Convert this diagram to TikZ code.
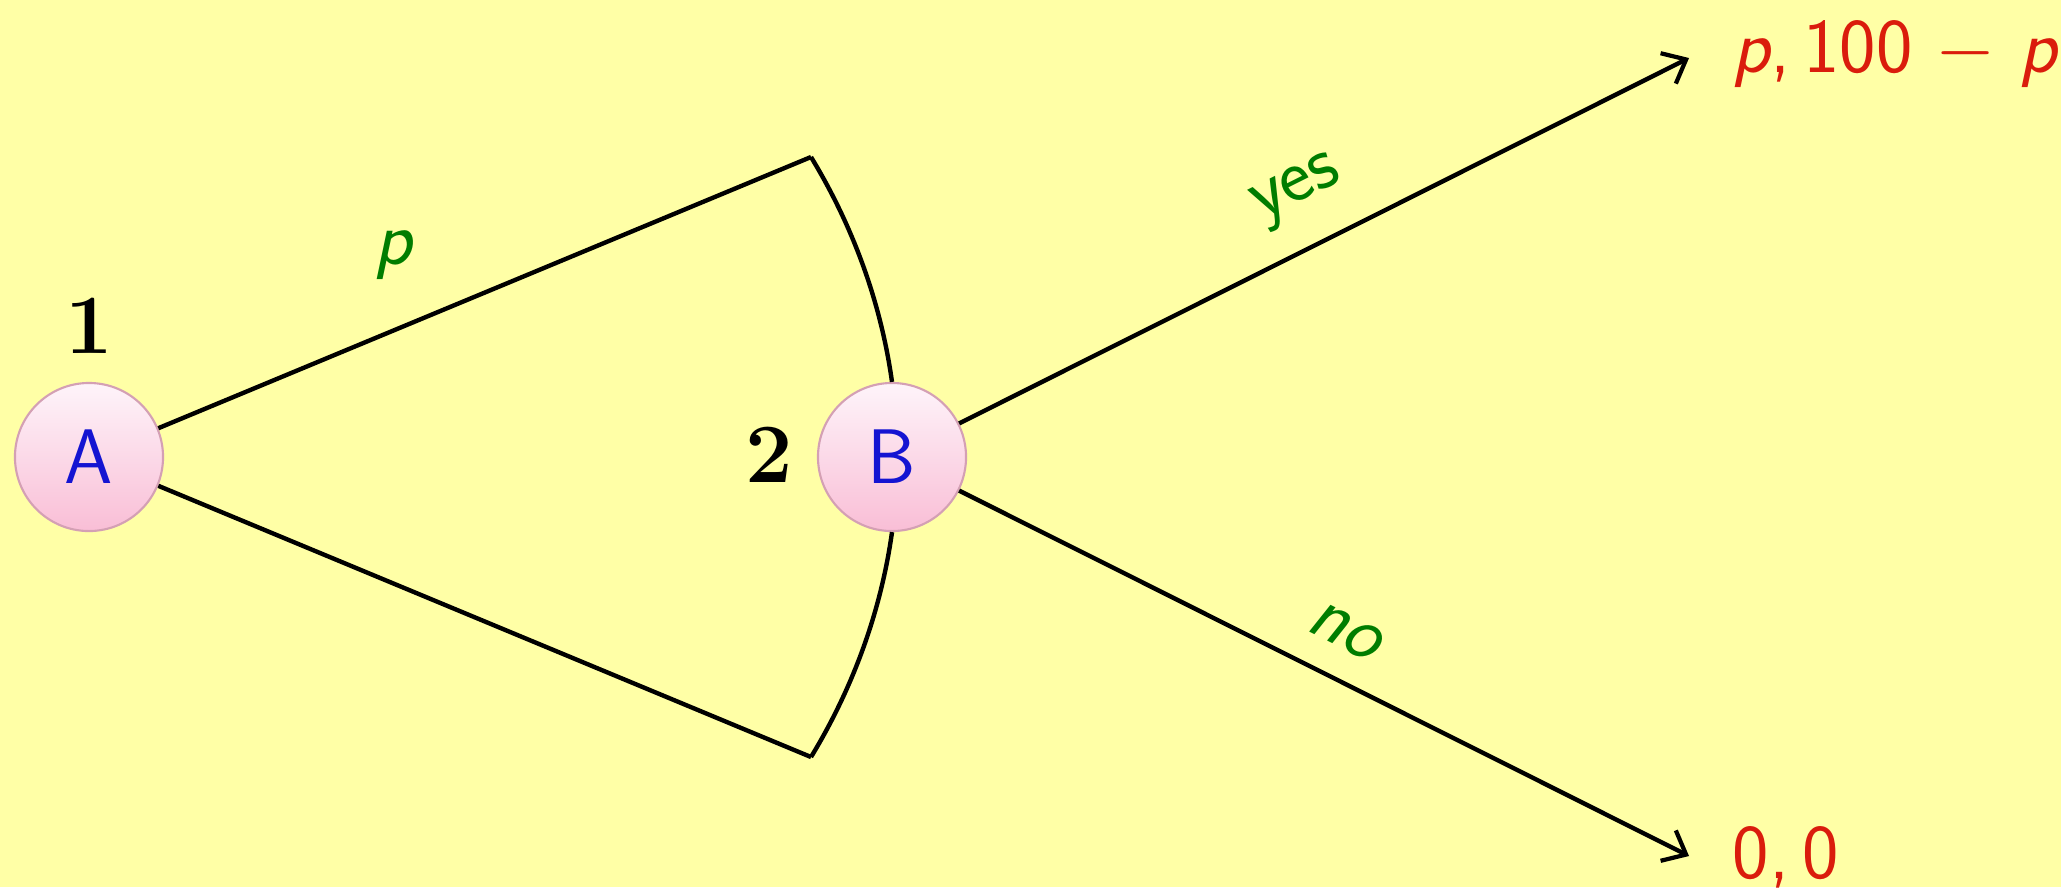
\RequirePackage{fix-cm}
\documentclass[tikz,border=0pt]{standalone}
\usepackage{fontspec}
\usetikzlibrary{arrows.meta}
\definecolor{bgyellow}{RGB}{255,255,166}
\definecolor{ballborder}{RGB}{212,160,180}
\definecolor{balltop}{RGB}{254,244,250}
\definecolor{ballbot}{RGB}{249,190,214}
\definecolor{nodeblue}{RGB}{20,20,210}
\definecolor{labgreen}{RGB}{0,125,0}
\definecolor{payred}{RGB}{218,28,12}
\tikzset{
  player/.style={circle, draw=ballborder, line width=0.6pt, top color=balltop, bottom color=ballbot,
    minimum size=1.48cm, inner sep=0pt, text=nodeblue, font=\fontsize{22}{26}\selectfont\sffamily},
  pnum/.style={inner sep=0pt, font=\fontsize{24}{28}\selectfont\bfseries},
  elabel/.style={inner sep=0pt, text=labgreen, font=\fontsize{22}{26}\selectfont\sffamily},
  payoff/.style={inner sep=0pt, anchor=base west, text=payred, font=\fontsize{22}{26}\selectfont\sffamily},
  edge/.style={line width=1.25pt, black},
  arrowedge/.style={edge, -{Straight Barb[length=2mm,width=3.4mm,line width=1.2pt]}}
}
\begin{document}
\begin{tikzpicture}[x=0.01cm,y=-0.01cm]
\fill[bgyellow] (0,0) rectangle (2061,887);
\useasboundingbox (0,0) rectangle (2061,887);
\node[player] (A) at (89,457) {A};
\node[player] (B) at (892,457) {B};
\coordinate (c1) at (811,157);
\coordinate (c2) at (811,757);
\coordinate (e1) at (1689,58);
\coordinate (e2) at (1689,856);
\draw[edge] (A) -- (c1);
\draw[edge] (A) -- (c2);
\draw[edge] (c1) .. controls (853,226) and (881,303) .. (B.north);
\draw[edge] (B.south) .. controls (881,611) and (853,688) .. (c2);
\draw[arrowedge] (B) -- (e1);
\draw[arrowedge] (B) -- (e2);
\node[pnum] (n1) at (89,326) {1};
\node[pnum] (n2) at (769,455) {2};
\node[elabel] (lp) at (393,255) {\itshape p};
\node[elabel, rotate=26.57] (lyes) at (1298,192) {yes};
\node[elabel, rotate=-26.57] (lno) at (1345,631) {\itshape no};
\node[payoff] (pay1) at (1732,72) {\itshape p\upshape,\hspace{0.17em}100\hspace{0.3em}$-$\hspace{0.3em}\itshape p};
\node[payoff] (pay2) at (1732,878) {0,\hspace{0.17em}0};
\end{tikzpicture}
\end{document}
